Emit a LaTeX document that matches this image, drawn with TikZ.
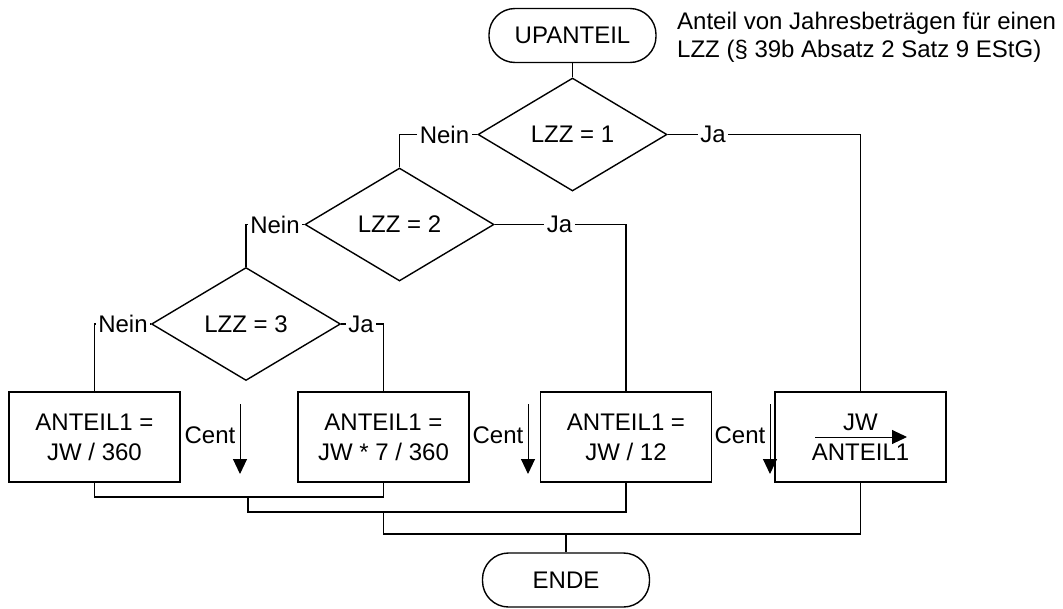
\documentclass[tikz,border=0pt]{standalone}
\usepackage{fontspec}
\setmainfont{Liberation Sans}
\usetikzlibrary{shapes.geometric,arrows.meta}
\begin{document}
\begin{tikzpicture}[x=1pt,y=-1pt,
  every node/.style={font=\fontsize{24}{30}\selectfont},
  line/.style={line width=1.4pt},
  term/.style={draw,line width=1.4pt,rounded corners=26pt,minimum width=167pt,minimum height=54pt,inner sep=0pt},
  dec/.style={draw,diamond,line width=1.4pt,minimum width=189pt,minimum height=113pt,aspect=1.67,inner sep=0pt},
  proc/.style={draw,line width=1.4pt,minimum width=171pt,minimum height=90pt,inner sep=0pt,align=center},
  lab/.style={inner sep=2.5pt},
  cent/.style={line width=1pt,-{Triangle[width=14pt,length=15pt]}}
]
\useasboundingbox (0,0) rectangle (1063,608);

% nodes
\node[term] (up) at (572.5,35.5) {UPANTEIL};
\node[anchor=base west,inner sep=0pt] (note1) at (677,29) {Anteil von Jahresbeträgen für einen};
\node[anchor=base west,inner sep=0pt] (note2) at (677,57) {LZZ (§ 39b Absatz 2 Satz 9 EStG)};

\node[dec] (d1) at (572.5,134.5) {LZZ = 1};
\node[dec] (d2) at (399.5,224.5) {LZZ = 2};
\node[dec] (d3) at (246,324) {LZZ = 3};

\node[proc] (b1) at (94.5,437) {ANTEIL1 =\\JW / 360};
\node[proc] (b2) at (383.5,437) {ANTEIL1 =\\JW * 7 / 360};
\node[proc] (b3) at (626,437) {ANTEIL1 =\\JW / 12};
\node[proc] (b4) at (860.5,437) {JW\\ANTEIL1};

\node[term] (ende) at (566,580) {ENDE};

% branch labels
\node[lab] (n1) at (444.5,134.5) {Nein};
\node[lab] (j1) at (713,134.5) {Ja};
\node[lab] (n2) at (275,224.5) {Nein};
\node[lab] (j2) at (559.5,224.5) {Ja};
\node[lab] (n3) at (123,324) {Nein};
\node[lab] (j3) at (361,324) {Ja};

% connectors
\draw[line] (up.south) -- (d1.north);
\draw[line] (d1.west) -- (n1.east);
\draw[line] (n1.west) -| (d2.north);
\draw[line] (d1.east) -- (j1.west);
\draw[line] (j1.east) -| (b4.north);
\draw[line] (d2.west) -- (n2.east);
\draw[line] (n2.west) -| (d3.north);
\draw[line] (d2.east) -- (j2.west);
\draw[line] (j2.east) -| (b3.north);
\draw[line] (d3.west) -- (n3.east);
\draw[line] (n3.west) -| (b1.north);
\draw[line] (d3.east) -- (j3.west);
\draw[line] (j3.east) -| (b2.north);

% merges
\coordinate (m1) at (248,497);
\coordinate (m2) at (383.5,512);
\coordinate (m3) at (566,534);
\draw[line] (b1.south) |- (m1) -| (b2.south);
\draw[line] (m1) |- (m2) -| (b3.south);
\draw[line] (m2) |- (m3) -| (b4.south);
\draw[line] (m3) -- (ende.north);

% Cent arrows
\node[lab,anchor=east] (c1) at (238,435) {Cent};
\node[lab,anchor=east] (c2) at (526,435) {Cent};
\node[lab,anchor=east] (c3) at (768,435) {Cent};
\coordinate (a1s) at (240,404); \coordinate (a1e) at (240,474);
\coordinate (a2s) at (528,404); \coordinate (a2e) at (528,474);
\coordinate (a3s) at (770,404); \coordinate (a3e) at (770,474);
\draw[cent] (a1s) -- (a1e);
\draw[cent] (a2s) -- (a2e);
\draw[cent] (a3s) -- (a3e);

% fraction arrow in box 4
\coordinate (fs) at (815,437); \coordinate (fe) at (907,437);
\draw[cent] (fs) -- (fe);
\end{tikzpicture}
\end{document}
